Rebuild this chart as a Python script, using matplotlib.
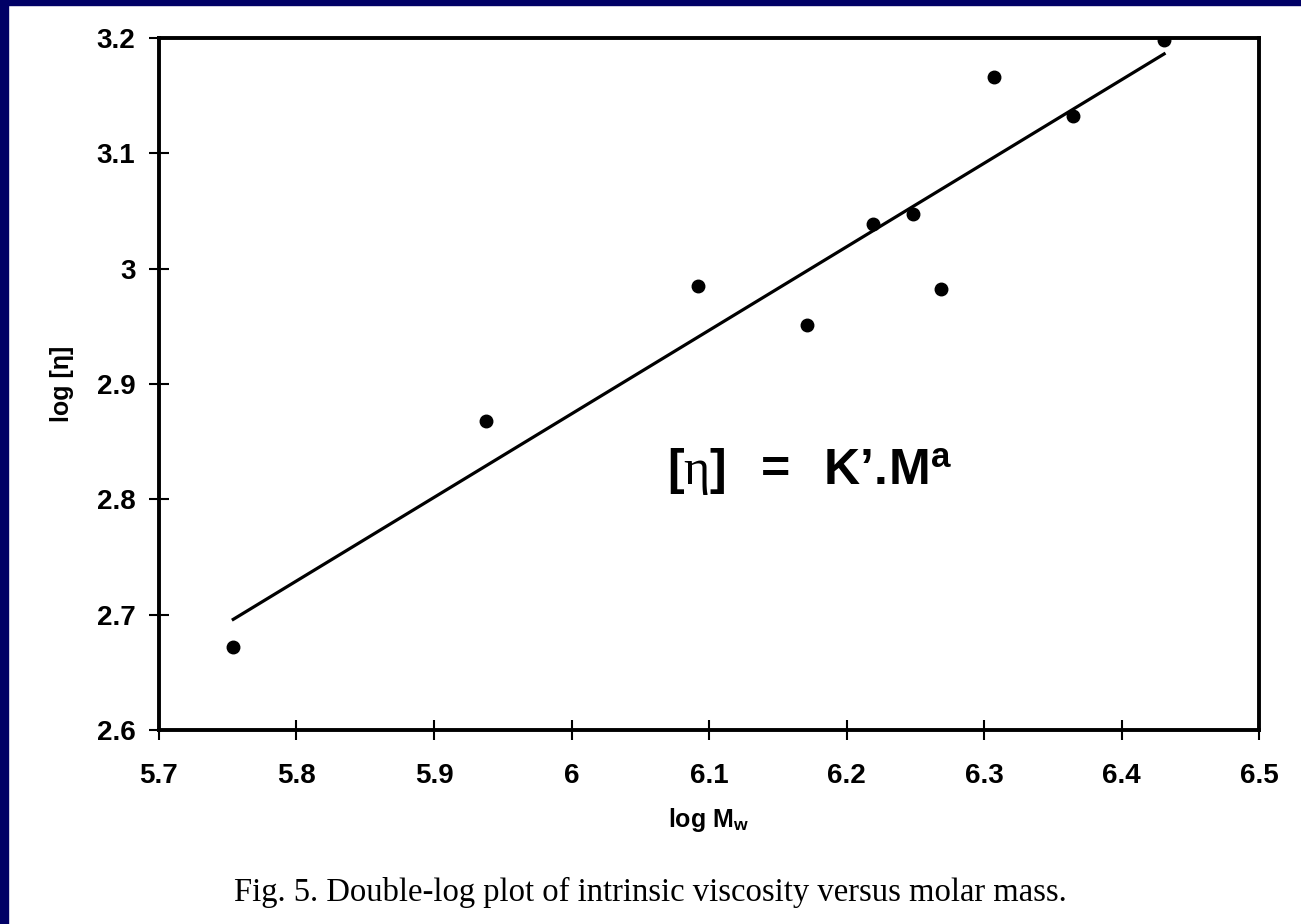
import numpy as np
import matplotlib.pyplot as plt
from matplotlib.patches import Rectangle

# values
log_mw = [5.754, 5.938, 6.092, 6.171, 6.219, 6.248, 6.269, 6.307, 6.365, 6.431]
log_eta = [2.672, 2.868, 2.985, 2.951, 3.039, 3.047, 2.982, 3.166, 3.132, 3.198]
x_ticks = [5.7, 5.8, 5.9, 6.0, 6.1, 6.2, 6.3, 6.4, 6.5]
x_tick_labels = ['5.7', '5.8', '5.9', '6', '6.1', '6.2', '6.3', '6.4', '6.5']
y_ticks = [2.6, 2.7, 2.8, 2.9, 3.0, 3.1, 3.2]
y_tick_labels = ['2.6', '2.7', '2.8', '2.9', '3', '3.1', '3.2']

plt.rcParams['font.family'] = ['Liberation Sans', 'DejaVu Sans']
plt.rcParams['mathtext.fontset'] = 'custom'
plt.rcParams['mathtext.bf'] = 'Liberation Sans:bold'
plt.rcParams['mathtext.rm'] = 'Liberation Sans:bold'
plt.rcParams['mathtext.it'] = 'Liberation Serif'

fig = plt.figure(figsize=(13.01, 9.24), dpi=100)
fig.patch.set_facecolor('white')
# navy frame on the left and top edges
fig.add_artist(Rectangle((0, 0), 8 / 1301, 1, transform=fig.transFigure, color='#000066', zorder=10))
fig.add_artist(Rectangle((0, 1 - 5 / 924), 1, 5 / 924, transform=fig.transFigure, color='#000066', zorder=10))

ax = fig.add_axes([159 / 1301, 194 / 924, 1100 / 1301, 692 / 924])

x = np.array(log_mw)
y = np.array(log_eta)
slope, icpt = np.polyfit(x, y, 1)
xl = np.array([x.min(), x.max()])
ax.plot(xl, slope * xl + icpt, color='black', lw=2.3)
ax.plot(x, y, 'o', color='black', ms=9)

ax.set_xlim(5.7, 6.5)
ax.set_ylim(2.6, 3.2)
ax.set_xticks(x_ticks)
ax.set_xticklabels(x_tick_labels)
ax.set_yticks(y_ticks)
ax.set_yticklabels(y_tick_labels)
ax.tick_params(axis='x', direction='inout', length=14, width=1.5, pad=17, labelsize=20)
ax.tick_params(axis='y', direction='inout', length=14, width=1.5, pad=10, labelsize=20)
for lab in ax.get_xticklabels() + ax.get_yticklabels():
    lab.set_fontweight('bold')
for s in ax.spines.values():
    s.set_linewidth(2.8)

ax.set_xlabel(r'log M$_\mathbf{w}$', fontsize=18, fontweight='bold', labelpad=12)
ax.set_ylabel('log [η]', fontsize=18, fontweight='bold', labelpad=16)

ax.text(0.462, 0.355, r'$\mathbf{[}\eta\mathbf{]\ \ =\ \ K’.\!M}^{\mathbf{a}}$',
        transform=ax.transAxes, fontsize=36, ha='left', va='baseline')

fig.text(0.5, 1 - 901 / 924, 'Fig. 5. Double-log plot of intrinsic viscosity versus molar mass.',
         family='Liberation Serif', fontsize=23.5, ha='center', va='baseline')

fig.savefig('out.png', dpi=100)
